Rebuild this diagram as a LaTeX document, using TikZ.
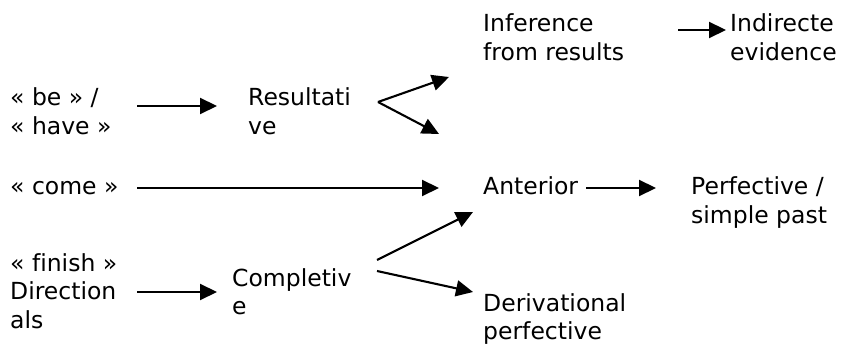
\documentclass[tikz,border=0pt]{standalone}
\usepackage{fontspec}
\setmainfont{DejaVu Sans}[Ligatures=NoCommon]
\usetikzlibrary{arrows.meta}
\begin{document}
\begin{tikzpicture}[x=1pt,y=1pt,
  lbl/.style={anchor=base west,inner sep=0pt,font=\fontsize{23.5}{28.7}\selectfont},
  arr/.style={line width=2.1pt,-{Triangle[length=17pt,width=16pt]}}]
\useasboundingbox (0,0) rectangle (842,-347);
\node[lbl] (be)   at (10,-106)  {\begin{tabular}[t]{@{}l@{}}« be » /\\« have »\end{tabular}};
\node[lbl] (res)  at (248,-106) {\begin{tabular}[t]{@{}l@{}}Resultati\\ve\end{tabular}};
\node[lbl] (inf)  at (483,-32)  {\begin{tabular}[t]{@{}l@{}}Inference\\from results\end{tabular}};
\node[lbl] (ind)  at (730,-32)  {\begin{tabular}[t]{@{}l@{}}Indirecte\\evidence\end{tabular}};
\node[lbl] (come) at (10,-195)  {« come »};
\node[lbl] (ant)  at (483,-195) {Anterior};
\node[lbl] (perf) at (691,-195) {\begin{tabular}[t]{@{}l@{}}Perfective /\\simple past\end{tabular}};
\node[lbl] (fin)  at (10,-271)  {\begin{tabular}[t]{@{}l@{}}« finish »\\Direction\\als\end{tabular}};
\node[lbl] (comp) at (232,-286) {\begin{tabular}[t]{@{}l@{}}Completiv\\e\end{tabular}};
\node[lbl] (der)  at (483,-311) {\begin{tabular}[t]{@{}l@{}}Derivational\\perfective\end{tabular}};
% connector ends
\coordinate (beR)   at (137,-106);
\coordinate (resL)  at (217,-106);
\coordinate (resR)  at (378,-102);
\coordinate (infT)  at (449,-77);
\coordinate (infB)  at (439,-134);
\coordinate (infR)  at (678,-30);
\coordinate (indL)  at (726,-30);
\coordinate (comeR) at (137,-188);
\coordinate (antL)  at (439,-188);
\coordinate (antR)  at (586,-188);
\coordinate (perfL) at (656,-188);
\coordinate (finR)  at (137,-292);
\coordinate (compL) at (217,-292);
\coordinate (compRa) at (377,-260);
\coordinate (compRb) at (377,-271);
\coordinate (antB)  at (473,-212);
\coordinate (derL)  at (473,-292);
\draw[arr] (beR) -- (resL);
\draw[arr] (resR) -- (infT);
\draw[arr] (resR) -- (infB);
\draw[arr] (infR) -- (indL);
\draw[arr] (comeR) -- (antL);
\draw[arr] (antR) -- (perfL);
\draw[arr] (finR) -- (compL);
\draw[arr] (compRa) -- (antB);
\draw[arr] (compRb) -- (derL);
\end{tikzpicture}
\end{document}
